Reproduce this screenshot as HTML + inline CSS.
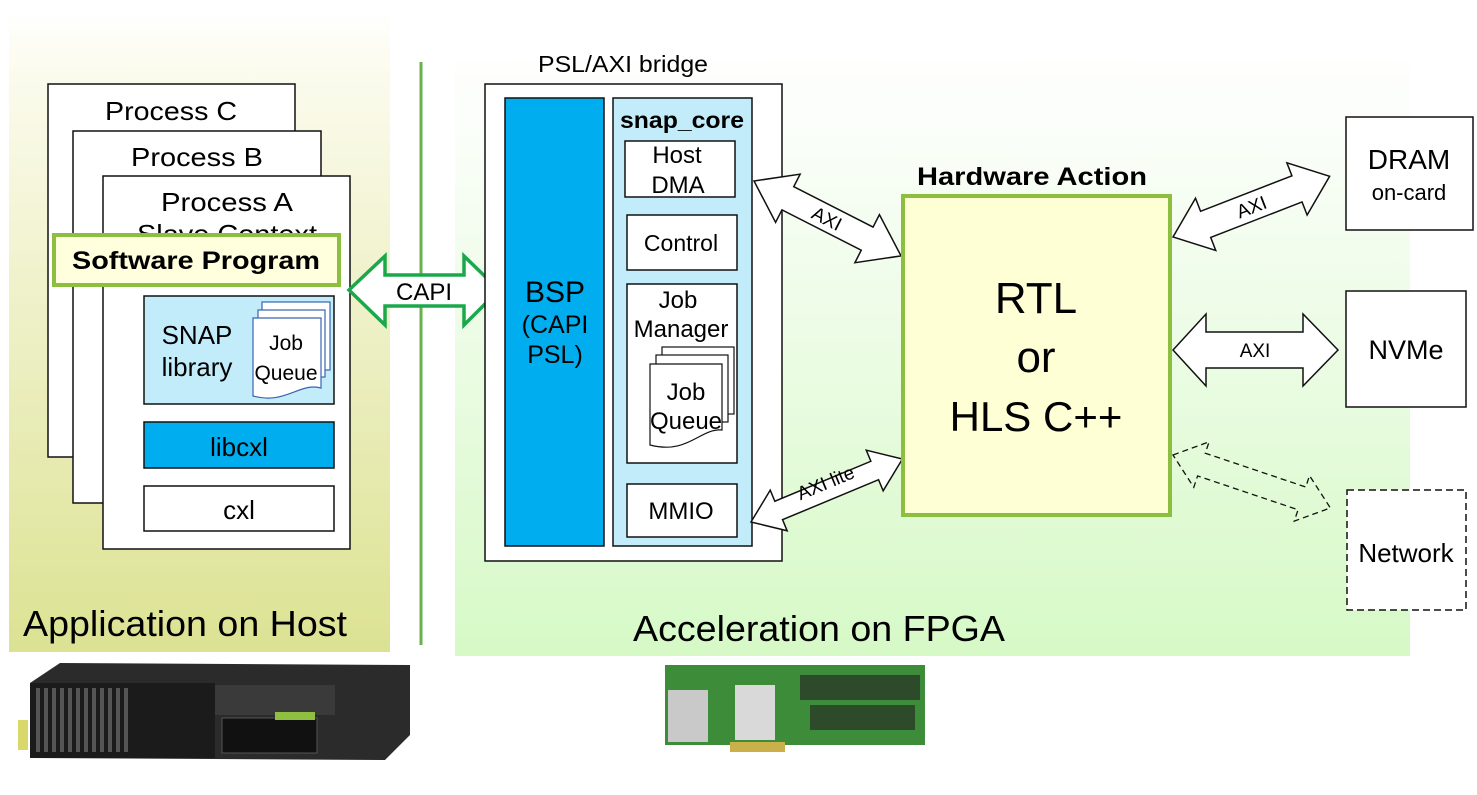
<!DOCTYPE html>
<html><head><meta charset="utf-8"><style>
html,body{margin:0;padding:0;background:#fff}
svg{display:block}
text{font-family:"Liberation Sans",sans-serif}
</style></head><body>
<svg width="1477" height="795" viewBox="0 0 1477 795" xmlns="http://www.w3.org/2000/svg">
<defs>
<linearGradient id="gl" x1="0" y1="0" x2="0" y2="1"><stop offset="0" stop-color="#ffffff"/><stop offset="0.1" stop-color="#fbfbed"/><stop offset="1" stop-color="#dce292"/></linearGradient>
<linearGradient id="gr" x1="0" y1="0" x2="0" y2="1"><stop offset="0" stop-color="#ffffff"/><stop offset="0.15" stop-color="#fbfefa"/><stop offset="1" stop-color="#d6f9c6"/></linearGradient>
</defs>
<rect x="9" y="10" width="381" height="642" fill="url(#gl)"/>
<rect x="455" y="30" width="955" height="626" fill="url(#gr)"/>
<line x1="421" y1="62" x2="421" y2="645" stroke="#6ab04c" stroke-width="3"/>

<!-- processes -->
<rect x="48" y="84" width="247" height="373" fill="#fff" stroke="#111" stroke-width="1.5"/>
<text x="171" y="120" font-size="26" text-anchor="middle" textLength="132" lengthAdjust="spacingAndGlyphs">Process C</text>
<rect x="73" y="131" width="248" height="372" fill="#fff" stroke="#111" stroke-width="1.5"/>
<text x="197" y="166" font-size="26" text-anchor="middle" textLength="132" lengthAdjust="spacingAndGlyphs">Process B</text>
<rect x="103" y="176" width="247" height="373" fill="#fff" stroke="#111" stroke-width="1.5"/>
<text x="227" y="211" font-size="26" text-anchor="middle" textLength="132" lengthAdjust="spacingAndGlyphs">Process A</text>
<text x="227" y="243" font-size="26" text-anchor="middle" textLength="180" lengthAdjust="spacingAndGlyphs">Slave Context</text>
<rect x="54" y="235" width="285" height="50" fill="#ffffdd" stroke="#8cbf3f" stroke-width="4"/>
<text x="196" y="269" font-size="25" font-weight="bold" text-anchor="middle" textLength="248" lengthAdjust="spacingAndGlyphs">Software Program</text>
<rect x="144" y="296" width="190" height="108" fill="#c3ecfb" stroke="#111" stroke-width="1.5"/>
<text x="197" y="344" font-size="26" text-anchor="middle">SNAP</text>
<text x="197" y="376" font-size="26" text-anchor="middle">library</text>
<rect x="262" y="302" width="68" height="68" fill="#fff" stroke="#3a64b0" stroke-width="1.2"/>
<rect x="258" y="310" width="67" height="67" fill="#fff" stroke="#3a64b0" stroke-width="1.2"/>
<path d="M253 318 H321 V388 C300 382 285 405 253 396 Z" fill="#fff" stroke="#3a64b0" stroke-width="1.2"/>
<text x="286" y="350" font-size="21" text-anchor="middle">Job</text>
<text x="286" y="380" font-size="21" text-anchor="middle">Queue</text>
<rect x="144" y="422" width="190" height="46" fill="#00aeef" stroke="#111" stroke-width="1.5"/>
<text x="239" y="456" font-size="26" text-anchor="middle">libcxl</text>
<rect x="144" y="486" width="190" height="45" fill="#fff" stroke="#111" stroke-width="1.5"/>
<text x="239" y="519" font-size="26" text-anchor="middle">cxl</text>
<text x="23" y="636" font-size="36" textLength="324" lengthAdjust="spacingAndGlyphs">Application on Host</text>

<!-- CAPI -->
<polygon points="349,290 385,256 385,275 464,275 464,256 499,290 464,325 464,306 385,306 385,325" fill="#fff" stroke="#1aa84b" stroke-width="3.5"/>
<text x="424" y="300" font-size="24" text-anchor="middle">CAPI</text>

<!-- bridge -->
<text x="623" y="72" font-size="23" text-anchor="middle" textLength="170" lengthAdjust="spacingAndGlyphs">PSL/AXI bridge</text>
<rect x="485" y="84" width="297" height="477" fill="#fff" stroke="#111" stroke-width="1.5"/>
<rect x="505" y="98" width="99" height="448" fill="#00aeef" stroke="#111" stroke-width="1.5"/>
<text x="555" y="302" font-size="30" text-anchor="middle">BSP</text>
<text x="555" y="333" font-size="25" text-anchor="middle">(CAPI</text>
<text x="555" y="363" font-size="25" text-anchor="middle">PSL)</text>
<rect x="613" y="98" width="139" height="448" fill="#c3ecfb" stroke="#111" stroke-width="1.5"/>
<text x="682" y="128" font-size="23" font-weight="bold" text-anchor="middle" textLength="124" lengthAdjust="spacingAndGlyphs">snap_core</text>
<rect x="625" y="141" width="110" height="56" fill="#fff" stroke="#111" stroke-width="1.5"/>
<text x="677" y="163" font-size="24" text-anchor="middle">Host</text>
<text x="678" y="193" font-size="24" text-anchor="middle">DMA</text>
<rect x="627" y="215" width="110" height="55" fill="#fff" stroke="#111" stroke-width="1.5"/>
<text x="681" y="251" font-size="23" text-anchor="middle">Control</text>
<rect x="627" y="284" width="110" height="179" fill="#fff" stroke="#111" stroke-width="1.5"/>
<text x="678" y="308" font-size="24" text-anchor="middle">Job</text>
<text x="681" y="337" font-size="24" text-anchor="middle">Manager</text>
<rect x="662" y="347" width="72" height="67" fill="#fff" stroke="#111" stroke-width="1.2"/>
<rect x="656" y="355" width="72" height="67" fill="#fff" stroke="#111" stroke-width="1.2"/>
<path d="M650 364 H722 V430 C700 428 688 455 650 445 Z" fill="#fff" stroke="#111" stroke-width="1.2"/>
<text x="686" y="400" font-size="24" text-anchor="middle">Job</text>
<text x="686" y="429" font-size="24" text-anchor="middle">Queue</text>
<rect x="627" y="484" width="110" height="53" fill="#fff" stroke="#111" stroke-width="1.5"/>
<text x="681" y="519" font-size="24" text-anchor="middle">MMIO</text>

<!-- AXI arrows -->
<g transform="translate(754,181) rotate(27)">
<polygon points="0,0 38,-27 38,-13 127,-13 127,-27 165,0 127,27 127,13 38,13 38,27" fill="#fff" stroke="#111" stroke-width="1.5"/>
<text x="82" y="7" font-size="19" text-anchor="middle">AXI</text>
</g>
<g transform="translate(751,522) rotate(-22.6)">
<polygon points="0,0 30,-22 30,-10 134,-10 134,-22 164,0 134,22 134,10 30,10 30,22" fill="#fff" stroke="#111" stroke-width="1.5"/>
<text x="84" y="-1" font-size="19" text-anchor="middle">AXI lite</text>
</g>
<g transform="translate(1173,237) rotate(-21.2)">
<polygon points="0,0 35,-28 35,-14 133,-14 133,-28 168,0 133,28 133,14 35,14 35,28" fill="#fff" stroke="#111" stroke-width="1.5"/>
<text x="84" y="7" font-size="19" text-anchor="middle">AXI</text>
</g>
<polygon points="1173,350 1206,314 1206,332 1303,332 1303,314 1338,350 1303,386 1303,368 1206,368 1206,386" fill="#fff" stroke="#111" stroke-width="1.5"/>
<text x="1255" y="357" font-size="19" text-anchor="middle">AXI</text>
<g transform="translate(1173,455) rotate(18.6)">
<polygon points="0,0 30,-24 30,-12 136,-12 136,-24 166,0 136,24 136,12 30,12 30,24" fill="none" stroke="#111" stroke-width="1.3" stroke-dasharray="6,4"/>
</g>

<!-- hardware action -->
<text x="1032" y="185" font-size="25" font-weight="bold" text-anchor="middle" textLength="230" lengthAdjust="spacingAndGlyphs">Hardware Action</text>
<rect x="903" y="196" width="267" height="319" fill="#ffffd6" stroke="#8cbf3f" stroke-width="4"/>
<text x="1036" y="313" font-size="44" text-anchor="middle">RTL</text>
<text x="1036" y="372" font-size="44" text-anchor="middle">or</text>
<text x="1036" y="431" font-size="42" text-anchor="middle">HLS C++</text>

<!-- right boxes -->
<rect x="1346" y="117" width="127" height="113" fill="#fff" stroke="#111" stroke-width="1.5"/>
<text x="1409" y="169" font-size="28" text-anchor="middle">DRAM</text>
<text x="1409" y="200" font-size="22" text-anchor="middle">on-card</text>
<rect x="1346" y="291" width="120" height="116" fill="#fff" stroke="#111" stroke-width="1.5"/>
<text x="1406" y="359" font-size="27" text-anchor="middle">NVMe</text>
<rect x="1347" y="490" width="119" height="120" fill="#fff" stroke="#111" stroke-width="1.5" stroke-dasharray="7,4"/>
<text x="1406" y="562" font-size="26" text-anchor="middle">Network</text>

<text x="633" y="641" font-size="36" textLength="372" lengthAdjust="spacingAndGlyphs">Acceleration on FPGA</text>

<!-- server -->
<polygon points="30,683 60,663 410,665 410,735 385,760 30,758" fill="#2b2b2b"/>
<rect x="30" y="683" width="185" height="75" fill="#1b1b1b"/>
<g fill="#555">
<rect x="36" y="688" width="4" height="64"/><rect x="44" y="688" width="4" height="64"/><rect x="52" y="688" width="4" height="64"/><rect x="60" y="688" width="4" height="64"/><rect x="68" y="688" width="4" height="64"/><rect x="76" y="688" width="4" height="64"/><rect x="84" y="688" width="4" height="64"/><rect x="92" y="688" width="4" height="64"/><rect x="100" y="688" width="4" height="64"/><rect x="108" y="688" width="4" height="64"/><rect x="116" y="688" width="4" height="64"/><rect x="124" y="688" width="4" height="64"/>
</g>
<rect x="215" y="685" width="120" height="30" fill="#3a3a3a"/>
<rect x="222" y="718" width="95" height="35" fill="#111" stroke="#555"/>
<rect x="275" y="712" width="40" height="8" fill="#8fbf40"/>
<rect x="18" y="720" width="10" height="30" fill="#d9d96b"/>

<!-- fpga card -->
<rect x="665" y="665" width="260" height="80" fill="#3c8c3a"/>
<rect x="668" y="690" width="40" height="52" fill="#c9c9c9"/>
<rect x="735" y="685" width="40" height="55" fill="#d9d9d9"/>
<rect x="800" y="675" width="120" height="25" fill="#2d4a2a"/>
<rect x="810" y="705" width="105" height="25" fill="#2d4a2a"/>
<rect x="730" y="742" width="55" height="10" fill="#c9b04a"/>
</svg>
</body></html>
